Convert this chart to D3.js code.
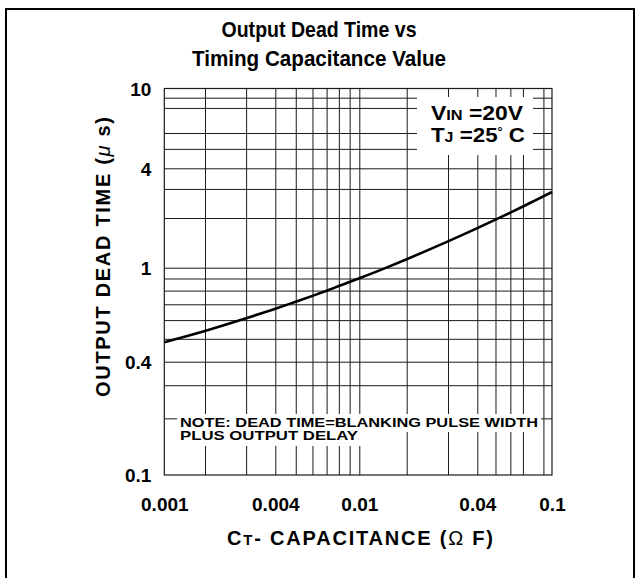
<!DOCTYPE html>
<html><head><meta charset="utf-8">
<script src="https://cdn.jsdelivr.net/npm/d3@7"></script>
<style>
body{margin:0;background:#fff}
text{font-family:"Liberation Sans",Arial,Helvetica,sans-serif;font-weight:bold;fill:#000}
</style>
</head><body>
<svg id="chart" width="640" height="578"></svg>
<script>
// ---- data ----
const capacitance = [0.001, 0.0015, 0.002, 0.003, 0.004, 0.005, 0.006, 0.007, 0.008, 0.01,
                     0.015, 0.02, 0.03, 0.04, 0.05, 0.06, 0.07, 0.08, 0.1];
const deadTime    = [0.483, 0.515, 0.540, 0.611, 0.670, 0.718, 0.760, 0.799, 0.836, 0.902,
                     1.005, 1.126, 1.443, 1.735, 1.954, 2.157, 2.348, 2.531, 2.874];
const xTickValues = [0.001, 0.004, 0.01, 0.04, 0.1];
const xTickLabels = ["0.001", "0.004", "0.01", "0.04", "0.1"];
const yTickValues = [0.1, 0.4, 1, 4, 10];
const yTickLabels = ["0.1", "0.4", "1", "4", "10"];
const xGridValues = [0.002,0.003,0.004,0.005,0.006,0.007,0.008,0.009,0.01,0.02,0.03,0.04,0.05,0.06,0.07,0.09];
const yGridValues = [0.2,0.3,0.4,0.5,0.6,0.7,0.8,0.9,1,2,3,4,5,6,8,9];
const titleLines = ["Output Dead Time vs", "Timing Capacitance Value"];
const noteLines = ["NOTE: DEAD TIME=BLANKING PULSE WIDTH", "PLUS OUTPUT DELAY"];

// ---- layout ----
const W = 640, H = 578;
const pLeft = 164.3, pRight = 552, pTop = 88.5, pBottom = 475;
// calibration of the (hand-drawn, non-uniform) log axes
const xCalib = [0.001, 0.002, 0.004, 0.01, 0.02, 0.04, 0.1];
const xCalibPx = [pLeft, 205, 275.3, 359.3, 406.7, 477.3, pRight];
const yCalib = [0.1, 0.4, 1, 4, 10];
const yCalibPx = [pBottom, 361.7, 267.7, 168.3, pTop];

const x = d3.scaleLog().domain(xCalib).range(xCalibPx);
const y = d3.scaleLog().domain(yCalib).range(yCalibPx);

const svg = d3.select("#chart");
svg.append("rect").attr("width", W).attr("height", H).attr("fill", "#fff");

// outer frame
svg.append("rect").attr("x", 6).attr("y", 9).attr("width", 628).attr("height", 640)
  .attr("fill", "none").attr("stroke", "#000").attr("stroke-width", 2);

// title
svg.append("g").selectAll("text").data(titleLines).join("text")
  .attr("x", 319).attr("y", (d, i) => 37 + i * 28.5)
  .attr("text-anchor", "middle").attr("font-size", 22)
  .attr("textLength", (d, i) => i === 0 ? 195 : 254).attr("lengthAdjust", "spacingAndGlyphs")
  .text(d => d);

const plotH = pBottom - pTop, plotW = pRight - pLeft;

// grid via axes
const gx = svg.append("g").attr("transform", `translate(0,${pBottom})`)
  .call(d3.axisBottom(x).tickValues(xGridValues).tickSize(-plotH).tickFormat(""));
const gy = svg.append("g").attr("transform", `translate(${pLeft},0)`)
  .call(d3.axisLeft(y).tickValues(yGridValues).tickSize(-plotW).tickFormat(""));
[gx, gy].forEach(g => {
  g.select(".domain").remove();
  g.selectAll(".tick line").attr("stroke", "#1a1a1a").attr("stroke-width", 1);
});

// plot frame
svg.append("rect").attr("x", x(0.001)).attr("y", y(10))
  .attr("width", x(0.1) - x(0.001)).attr("height", y(0.1) - y(10))
  .attr("fill", "none").attr("stroke", "#1a1a1a").attr("stroke-width", 1.2);

// curve
const pts = capacitance.map((c, i) => [c, deadTime[i]]);
svg.append("path").datum(pts)
  .attr("d", d3.line().x(d => x(d[0])).y(d => y(d[1])).curve(d3.curveMonotoneX))
  .attr("fill", "none").attr("stroke", "#000").attr("stroke-width", 2.6);

// legend box
svg.append("rect").attr("x", 417).attr("y", 97).attr("width", 116).attr("height", 58).attr("fill", "#fff");
const l1 = svg.append("text").attr("x", 431).attr("y", 120).attr("font-size", 21)
  .attr("textLength", 92).attr("lengthAdjust", "spacingAndGlyphs");
l1.append("tspan").text("V");
l1.append("tspan").attr("font-size", 15).text("IN");
l1.append("tspan").text("  =20V");
const l2 = svg.append("text").attr("x", 431).attr("y", 141.5).attr("font-size", 21)
  .attr("textLength", 94).attr("lengthAdjust", "spacingAndGlyphs");
l2.append("tspan").text("T");
l2.append("tspan").attr("font-size", 15).text("J");
l2.append("tspan").text(" =25");
l2.append("tspan").attr("font-size", 12).attr("dy", -6).text("°");
l2.append("tspan").attr("dy", 6).text(" C");

// note
svg.append("rect").attr("x", 177).attr("y", 414).attr("width", 364).attr("height", 18).attr("fill", "#fff");
svg.append("rect").attr("x", 177).attr("y", 432).attr("width", 184).attr("height", 14).attr("fill", "#fff");
svg.append("g").selectAll("text").data(noteLines).join("text")
  .attr("x", 180).attr("y", (d, i) => 427 + i * 12.8)
  .attr("font-size", 12.5)
  .attr("textLength", (d, i) => i === 0 ? 358 : 178).attr("lengthAdjust", "spacingAndGlyphs")
  .text(d => d);

// tick labels via axes
const ax = svg.append("g").attr("transform", `translate(0,${pBottom})`)
  .call(d3.axisBottom(x).tickValues(xTickValues).tickSize(0).tickPadding(23)
    .tickFormat((d, i) => xTickLabels[i]));
const ay = svg.append("g").attr("transform", `translate(${pLeft},0)`)
  .call(d3.axisLeft(y).tickValues(yTickValues).tickSize(0).tickPadding(13)
    .tickFormat((d, i) => yTickLabels[i]));
[ax, ay].forEach(g => {
  g.select(".domain").remove();
  g.selectAll("text").attr("font-family", null).attr("font-size", 19).attr("fill", "#000");
});
ay.selectAll(".tick text").attr("dy", "0.36em");

// axis titles
const xt = svg.append("text").attr("x", 360).attr("y", 545).attr("text-anchor", "middle")
  .attr("font-size", 20).attr("textLength", 266).attr("lengthAdjust", "spacing");
xt.append("tspan").text("C");
xt.append("tspan").attr("font-size", 15).text("T");
xt.append("tspan").text("-  CAPACITANCE  (");
xt.append("tspan").attr("font-weight", "normal").text("Ω");
xt.append("tspan").text(" F)");

const yt = svg.append("text").attr("transform", "translate(110,257) rotate(-90)")
  .attr("text-anchor", "middle").attr("font-size", 20)
  .attr("textLength", 280).attr("lengthAdjust", "spacing");
yt.append("tspan").text("OUTPUT  DEAD  TIME  (");
yt.append("tspan").attr("font-weight", "normal").attr("font-style", "italic").text("μ");
yt.append("tspan").text(" s)");
</script>
</body></html>
